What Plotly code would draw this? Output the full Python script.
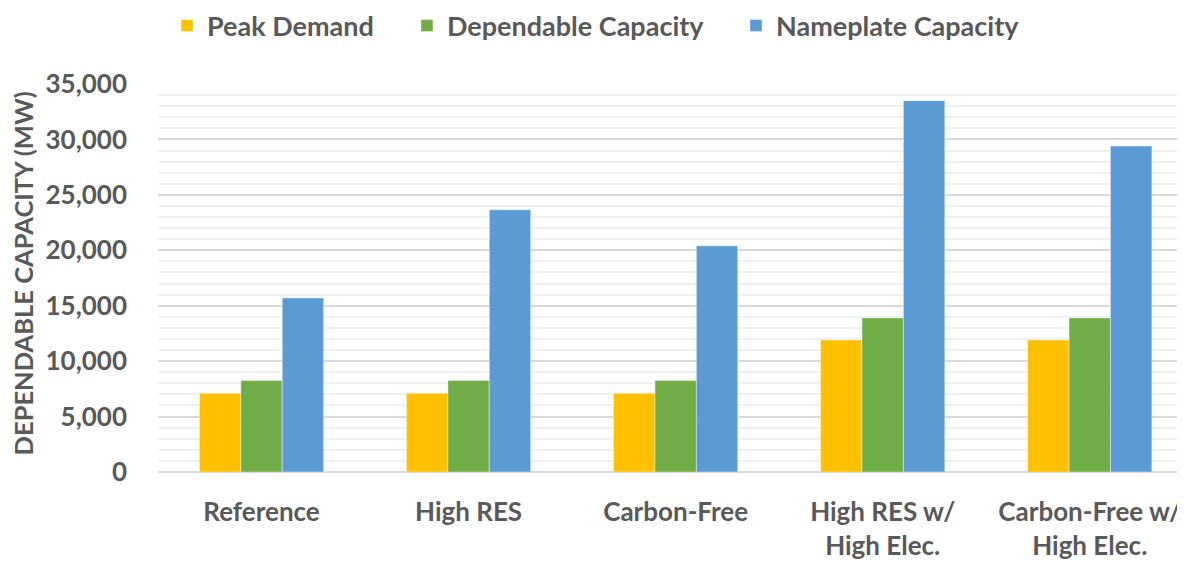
import plotly.graph_objects as go

categories = ["Reference", "High RES", "Carbon-Free", "High RES w/<br>High Elec.", "Carbon-Free w/<br>High Elec."]
peak_demand = [7100, 7100, 7100, 11900, 11900]
dependable_capacity = [8250, 8250, 8250, 13900, 13900]
nameplate_capacity = [15700, 23650, 20400, 33500, 29400]
tick_vals = [0, 5000, 10000, 15000, 20000, 25000, 30000, 35000]
tick_text = ["0", "5,000", "10,000", "15,000", "20,000", "25,000", "30,000", "35,000"]

FONT = "Lato"
TXT = "#595959"
W, H = 1185, 561

series = [
    ("Peak Demand", peak_demand, "#FFC000", "legend", 159),
    ("Dependable Capacity", dependable_capacity, "#70AD47", "legend2", 399),
    ("Nameplate Capacity", nameplate_capacity, "#5B9BD5", "legend3", 728),
]

fig = go.Figure()
legends = {}
for name, vals, color, leg, lx in series:
    fig.add_trace(go.Bar(
        name=name, x=categories, y=vals, legend=leg, showlegend=True,
        marker=dict(color=color, line=dict(width=0.8, color="rgba(255,255,255,0.5)")),
    ))
    legends[leg] = dict(
        orientation="h", xref="container", yref="container",
        x=lx / W, y=1 - 18 / H, xanchor="left", yanchor="middle",
        font=dict(family=FONT, size=27, color=TXT, weight="bold"),
        bgcolor="rgba(0,0,0,0)",
        itemclick=False, itemdoubleclick=False,
    )

fig.update_layout(
    width=W, height=H,
    showlegend=True,
    margin=dict(l=150, r=8, t=76, b=92),
    paper_bgcolor="white", plot_bgcolor="white",
    barmode="group", bargap=0.4, bargroupgap=0,
    font=dict(family=FONT, size=26, color=TXT),
    xaxis=dict(
        type="category", range=[-0.5, 4.46],
        showgrid=False, showline=False, zeroline=False,
        tickfont=dict(family=FONT, size=26, color=TXT, weight="bold"),
        ticks="", ticklabelstandoff=22,
    ),
    yaxis=dict(
        range=[0, 35000],
        tickvals=tick_vals, ticktext=tick_text,
        tickfont=dict(family=FONT, size=26, color=TXT, weight="bold"),
        ticks="", ticklabelstandoff=30,
        showgrid=True, gridcolor="#d9d9d9", gridwidth=1.5,
        minor=dict(dtick=1000, showgrid=True, gridcolor="#f0f0f0", gridwidth=1.5),
        zeroline=True, zerolinecolor="#d9d9d9", zerolinewidth=2,
        showline=False,
    ),
    annotations=[dict(
        text="DEPENDABLE CAPACITY (MW)", textangle=-90,
        xref="paper", yref="paper", x=-0.1314, y=0.512,
        xanchor="center", yanchor="middle", showarrow=False,
        font=dict(family=FONT, size=25.5, color=TXT, weight="bold"),
    )],
    **legends,
)

fig.write_html("out.html")
